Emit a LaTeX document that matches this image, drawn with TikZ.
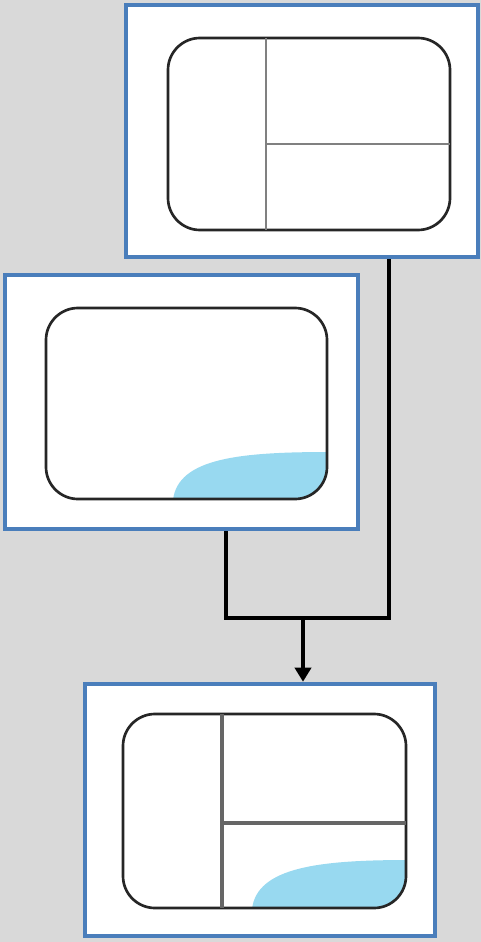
\documentclass[tikz,border=0pt]{standalone}
\usepackage{tikz}
\usetikzlibrary{positioning,calc,arrows.meta}

\definecolor{bggray}{HTML}{D9D9D9}
\definecolor{frameblue}{HTML}{4A7EBB}
\definecolor{waterblue}{HTML}{98D9F0}
\definecolor{divgray}{HTML}{666666}

\begin{document}
\begin{tikzpicture}[x=0.75pt, y=-0.75pt,
    panel/.style={draw=frameblue, fill=white, line width=3.4pt, rectangle, inner sep=0pt},
    card/.style={draw=black!85, line width=2pt, rounded corners=24pt},
    link/.style={draw=black, line width=3pt},
    arr/.style={link, -{Triangle[width=12pt,length=10.5pt]}}]
    % background
    \fill[bggray] (0,0) rectangle (481,942);
    \useasboundingbox (0,0) rectangle (481,942);

    % the three panels
    \node[panel, minimum width=264pt, minimum height=189pt] (top) at (302,131) {};
    \node[panel, minimum width=264.75pt, minimum height=190.5pt] (mid) at (181.5,402) {};
    \node[panel, minimum width=262.5pt, minimum height=189pt] (bot) at (260,810) {};

    % top panel: split card
    \draw[card] (168,38) rectangle (450,230);
    \draw[gray, line width=1pt] (266,38) -- (266,230);
    \draw[gray, line width=1pt] (266,144) -- (450,144);

    % middle panel: card with water
    \begin{scope}
        \clip[rounded corners=24pt] (46,308) rectangle (327,499);
        \fill[waterblue] (173,500) .. controls (178,458) and (240,452) .. (330,452) -- (330,502) -- cycle;
    \end{scope}
    \draw[card] (46,308) rectangle (327,499);

    % bottom panel: split card with water
    \begin{scope}
        \clip[rounded corners=24pt] (123,714) rectangle (406,908);
        \fill[waterblue] (252,909) .. controls (257,867) and (320,860) .. (409,860) -- (409,911) -- cycle;
    \end{scope}
    \draw[card] (123,714) rectangle (406,908);
    \draw[divgray, line width=3pt] (222,714) -- (222,908);
    \draw[divgray, line width=3pt] (222,823) -- (406,823);

    % connectors
    \coordinate (join) at (303,618);
    \draw[link] ([xshift=33.4pt]mid.south) |- (join) -| ([xshift=65.25pt]top.south);
    \draw[arr] (join) -- (join |- bot.north);
\end{tikzpicture}
\end{document}
